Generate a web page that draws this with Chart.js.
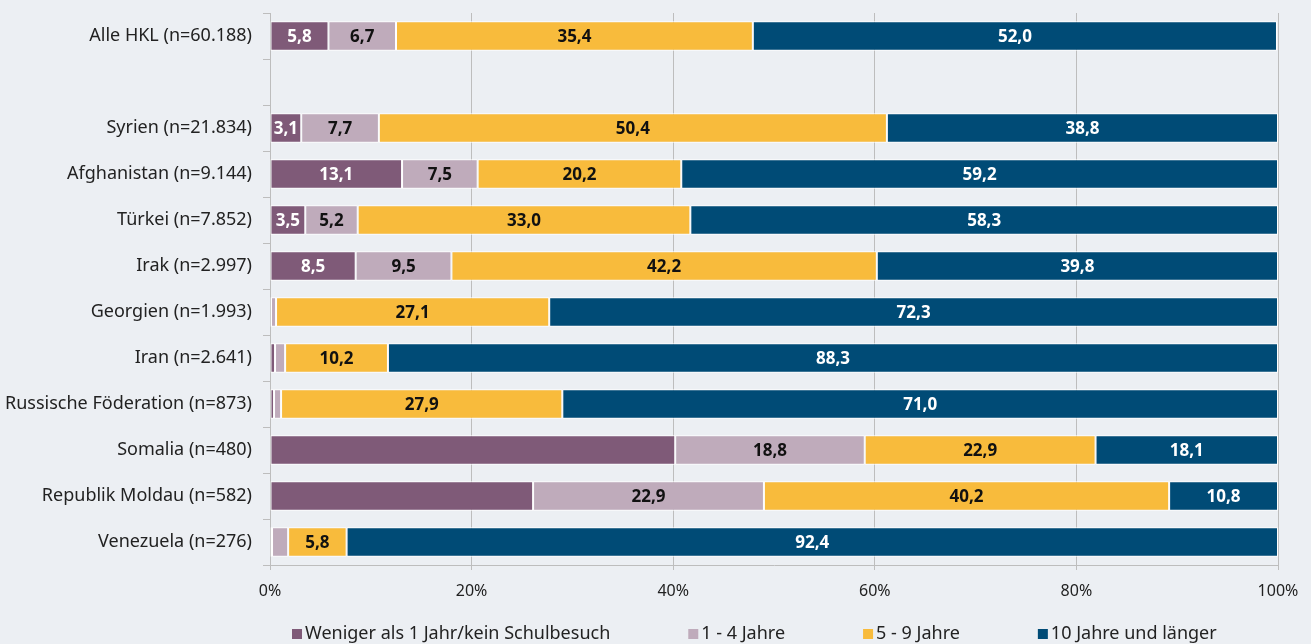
<!DOCTYPE html>
<html lang="de">
<head>
    <meta charset="UTF-8">
    <title>Schulbesuch nach Herkunftsland</title>
    <script src="https://cdn.jsdelivr.net/npm/chart.js"></script>
    <style>
        html, body { margin: 0; padding: 0; background: #eceff3; }
        .chart-box { width: 1311px; height: 644px; }
    </style>
</head>
<body>
    <div class="chart-box">
        <canvas id="schoolChart"></canvas>
    </div>

    <script>
        const categories = [
            'Alle HKL (n=60.188)', '',
            'Syrien (n=21.834)', 'Afghanistan (n=9.144)', 'Türkei (n=7.852)', 'Irak (n=2.997)',
            'Georgien (n=1.993)', 'Iran (n=2.641)', 'Russische Föderation (n=873)',
            'Somalia (n=480)', 'Republik Moldau (n=582)', 'Venezuela (n=276)'
        ];
        const seriesNames = ['Weniger als 1 Jahr/kein Schulbesuch', '1 - 4 Jahre', '5 - 9 Jahre', '10 Jahre und länger'];
        const lessThan1 = [5.8, null, 3.1, 13.1, 3.5, 8.5, 0.1, 0.5, 0.4, 40.2, 26.1, 0.2];
        const years1to4 = [6.7, null, 7.7, 7.5, 5.2, 9.5, 0.5, 1.0, 0.7, 18.8, 22.9, 1.6];
        const years5to9 = [35.4, null, 50.4, 20.2, 33.0, 42.2, 27.1, 10.2, 27.9, 22.9, 40.2, 5.8];
        const years10plus = [52.0, null, 38.8, 59.2, 58.3, 39.8, 72.3, 88.3, 71.0, 18.1, 10.8, 92.4];
        const xTicks = [0, 20, 40, 60, 80, 100];
        // labels the original leaves out (dataset, category)
        const hiddenLabels = [[0, 9], [0, 10]];

        const colors = ['#7f5a78', '#bfabbb', '#f8bb3c', '#004b76'];
        const labelColors = ['#ffffff', '#111111', '#111111', '#ffffff'];
        const axisGray = '#bdbdbd';

        const fmt = v => v.toFixed(1).replace('.', ',');

        const barLabels = {
            id: 'barLabels',
            afterDatasetsDraw(chart) {
                const ctx = chart.ctx;
                ctx.save();
                ctx.font = 'bold 17px "Noto Sans"';
                ctx.textAlign = 'center';
                ctx.textBaseline = 'middle';
                chart.data.datasets.forEach((ds, di) => {
                    chart.getDatasetMeta(di).data.forEach((bar, i) => {
                        const v = ds.data[i];
                        if (v == null || v < 3) return;
                        if (hiddenLabels.some(h => h[0] === di && h[1] === i)) return;
                        ctx.fillStyle = labelColors[di];
                        ctx.fillText(fmt(v), (bar.x + bar.base) / 2, bar.y + 1);
                    });
                });
                ctx.restore();
            }
        };

        // legend spaced like the original (wide gaps, single row)
        const bottomLegend = {
            id: 'bottomLegend',
            afterDraw(chart) {
                const ctx = chart.ctx;
                ctx.save();
                ctx.font = '18px "Noto Sans"';
                ctx.textBaseline = 'middle';
                let x = chart.chartArea.left + 22;
                const y = chart.height - 10;
                chart.data.datasets.forEach(ds => {
                    ctx.fillStyle = ds.backgroundColor;
                    ctx.fillRect(x, y - 5, 10, 10);
                    ctx.fillStyle = '#222';
                    ctx.fillText(ds.label, x + 13, y);
                    x += 13 + ctx.measureText(ds.label).width + 78;
                });
                ctx.restore();
            }
        };

        const allSeries = [lessThan1, years1to4, years5to9, years10plus];

        new Chart(document.getElementById('schoolChart'), {
            type: 'bar',
            data: {
                labels: categories,
                datasets: allSeries.map((d, i) => ({
                    label: seriesNames[i],
                    data: d,
                    backgroundColor: colors[i],
                    borderColor: '#ffffff',
                    borderWidth: 1,
                    borderSkipped: false,
                    barPercentage: 0.64,
                    categoryPercentage: 1
                }))
            },
            options: {
                indexAxis: 'y',
                responsive: true,
                maintainAspectRatio: false,
                animation: false,
                layout: { padding: { top: 13, right: 33, bottom: 0, left: 0 } },
                scales: {
                    x: {
                        stacked: true,
                        min: 0,
                        max: 100,
                        afterBuildTicks: s => { s.ticks = xTicks.map(v => ({ value: v })); },
                        afterFit: s => { s.height = 79; },
                        grid: { color: axisGray, drawTicks: true, tickLength: 5 },
                        border: { display: true, color: axisGray },
                        ticks: {
                            color: '#222',
                            font: { family: 'Noto Sans', size: 16 },
                            padding: 12,
                            callback: v => v + '%'
                        }
                    },
                    y: {
                        stacked: true,
                        afterFit: s => { s.width = 270; s.paddingTop = 0; s.paddingBottom = 0; },
                        grid: { drawOnChartArea: false, drawTicks: true, tickLength: 7, color: axisGray },
                        border: { display: true, color: axisGray },
                        ticks: {
                            color: '#222',
                            font: { family: 'Noto Sans', size: 18 },
                            padding: 11
                        }
                    }
                },
                plugins: {
                    legend: { display: false },
                    tooltip: { enabled: false }
                }
            },
            plugins: [barLabels, bottomLegend]
        });
    </script>
</body>
</html>
